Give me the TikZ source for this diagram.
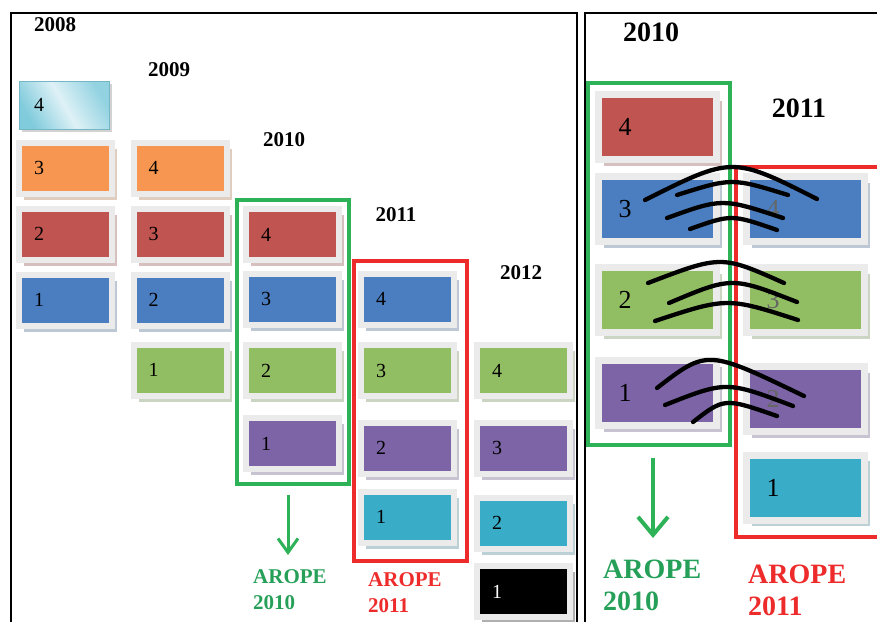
\documentclass[tikz,border=0pt]{standalone}
\usepackage{fontspec}
\setmainfont{Liberation Serif}
\usetikzlibrary{shadows,arrows.meta}

\definecolor{cardred}{RGB}{192,84,80}
\definecolor{cardblue}{RGB}{74,126,193}
\definecolor{cardgreen}{RGB}{146,190,99}
\definecolor{cardpurple}{RGB}{124,100,166}
\definecolor{cardcyan}{RGB}{57,172,200}
\definecolor{cardorange}{RGB}{247,150,80}
\definecolor{cardgrey}{RGB}{235,235,235}
\definecolor{lbdark}{RGB}{128,203,220}
\definecolor{lblight}{RGB}{222,241,246}
\definecolor{framegreen}{RGB}{46,178,88}
\definecolor{framered}{RGB}{237,43,43}
\definecolor{textgreen}{RGB}{38,160,88}

\tikzset{
  card/.style={draw=cardgrey, line width=6pt, fill=#1, minimum height=51pt,
    text width=63pt, inner xsep=15pt, inner ysep=0pt, align=left,
    font=\fontsize{20}{20}\selectfont,
    drop shadow={shadow xshift=5pt, shadow yshift=-6pt, fill=#1!45!gray!85!white}},
  bigcard/.style={card=#1, line width=7pt, minimum height=65pt,
    text width=78pt, inner xsep=20pt, font=\fontsize{26}{26}\selectfont},
  year/.style={font=\bfseries\fontsize{21}{21}\selectfont},
  bigyear/.style={font=\bfseries\fontsize{28}{28}\selectfont},
  arope/.style={align=left, anchor=north west, inner sep=0pt,
    font=\bfseries\fontsize{21}{26}\selectfont},
  bigarope/.style={arope, font=\bfseries\fontsize{28}{32}\selectfont},
  panel/.style={draw=black, line width=1.6pt},
  gframe/.style={draw=framegreen, line width=3.5pt},
  rframe/.style={draw=framered, line width=3.5pt},
  swoosh/.style={draw=black, line width=4.3pt, line cap=round},
}

\begin{document}
\begin{tikzpicture}[x=1pt, y=-1pt]
  \useasboundingbox (0,0) rectangle (877,621);

  % the two panels
  \draw[panel] (11,640) -- (11,13) -- (577,13) -- (577,640);
  \draw[panel] (585,640) -- (585,13) -- (890,13);

  % ---- left panel: one column per year ----
  \node[year] (y08) at (55,25) {2008};
  \node[year] (y09) at (169,70) {2009};
  \node[year] (y10) at (284,140) {2010};
  \node[year] (y11) at (396,215) {2011};
  \node[year] (y12) at (521,273) {2012};

  \node[draw=lbdark!90!black, line width=1pt, minimum width=90pt, minimum height=48pt,
    text width=60pt, inner xsep=15pt, align=left, font=\fontsize{20}{20}\selectfont,
    left color=lbdark, right color=lbdark!80!lblight, middle color=lblight,
    shading angle=120, drop shadow={shadow xshift=3pt, shadow yshift=-3pt, fill=gray!70}]
    (c08r4) at (64,105) {4};
  \node[card=cardorange] (c08r3) at (65.5,168) {3};
  \node[card=cardred]    (c08r2) at (65.5,234) {2};
  \node[card=cardblue]   (c08r1) at (65.5,300) {1};

  \node[card=cardorange] (c09r4) at (180,168) {4};
  \node[card=cardred]    (c09r3) at (180,234) {3};
  \node[card=cardblue]   (c09r2) at (180,300) {2};
  \node[card=cardgreen]  (c09r1) at (180,370) {1};

  \node[card=cardred]    (c10r4) at (292.5,234.5) {4};
  \node[card=cardblue]   (c10r3) at (292.5,299) {3};
  \node[card=cardgreen]  (c10r2) at (292.5,370.5) {2};
  \node[card=cardpurple] (c10r1) at (292.5,443.5) {1};

  \node[card=cardblue]   (c11r4) at (407.5,299) {4};
  \node[card=cardgreen]  (c11r3) at (407.5,370.5) {3};
  \node[card=cardpurple] (c11r2) at (407.5,448) {2};
  \node[card=cardcyan]   (c11r1) at (407.5,517) {1};

  \node[card=cardgreen]  (c12r4) at (523.5,370.5) {4};
  \node[card=cardpurple] (c12r3) at (523.5,448) {3};
  \node[card=cardcyan]   (c12r2) at (523.5,523) {2};
  \node[card=black, text=white] (c12r1) at (523.5,591.5) {1};

  \draw[gframe] (237,200) rectangle (349,484);
  \draw[rframe] (354,261) rectangle (467,561);

  \coordinate (gtail) at (288,495);
  \coordinate (ghead) at (288,555);
  \draw[framegreen, line width=3pt, -{Straight Barb[length=14pt, width=20pt]}] (gtail) -- (ghead);

  \node[arope, text=textgreen] (aro10) at (253,569) {AROPE\\2010};
  \node[arope, text=framered]  (aro11) at (368,572) {AROPE\\2011};

  % ---- right panel: 2010 against 2011 ----
  \node[bigyear] (z10) at (651,32) {2010};
  \node[bigyear] (z11) at (799,108) {2011};

  \node[bigcard=cardred]    (d10r4) at (657.5,127) {4};
  \node[bigcard=cardblue]   (d10r3) at (657.5,209) {3};
  \node[bigcard=cardgreen]  (d10r2) at (657.5,300) {2};
  \node[bigcard=cardpurple] (d10r1) at (657.5,393) {1};

  \node[bigcard=cardblue, text=black!60]   (d11r4) at (805.5,209) {4};
  \node[bigcard=cardgreen, text=black!60]  (d11r3) at (805.5,300) {3};
  \node[bigcard=cardpurple, text=black!60] (d11r2) at (805.5,399) {2};
  \node[bigcard=cardcyan]                  (d11r1) at (805.5,487.5) {1};

  \draw[gframe, line width=4pt] (588,83) rectangle (730,445);
  \draw[rframe, line width=4pt] (736,167) -- (890,167);
  \draw[rframe, line width=4pt] (736,167) -- (736,537) -- (890,537);

  % strokes across the boundary
  \draw[swoosh] (645,200) .. controls (732.3,156.2) .. (817,199);
  \draw[swoosh] (677,195) .. controls (731.8,177.7) .. (788,195);
  \draw[swoosh] (667,218) .. controls (722.3,198) .. (783,218);
  \draw[swoosh] (690,229) .. controls (731.5,214.2) .. (777,230);

  \draw[swoosh] (648,283) .. controls (721.3,255) .. (784,283);
  \draw[swoosh] (669,303) .. controls (731.7,276.5) .. (797,302);
  \draw[swoosh] (655,321) .. controls (727.2,297.2) .. (798,320);

  \draw[swoosh] (657,388) .. controls (707.2,349.3) .. (804,396);
  \draw[swoosh] (665,405) .. controls (726.3,380.8) .. (793,406);
  \draw[swoosh] (693,422) .. controls (724.3,397.7) .. (777,416);

  \coordinate (htail) at (653,458);
  \coordinate (hhead) at (653,538);
  \draw[framegreen, line width=4pt, -{Straight Barb[length=18pt, width=30pt]}] (htail) -- (hhead);

  \node[bigarope, text=textgreen] (bro10) at (603,560) {AROPE\\2010};
  \node[bigarope, text=framered]  (bro11) at (748,565) {AROPE\\2011};
\end{tikzpicture}
\end{document}
